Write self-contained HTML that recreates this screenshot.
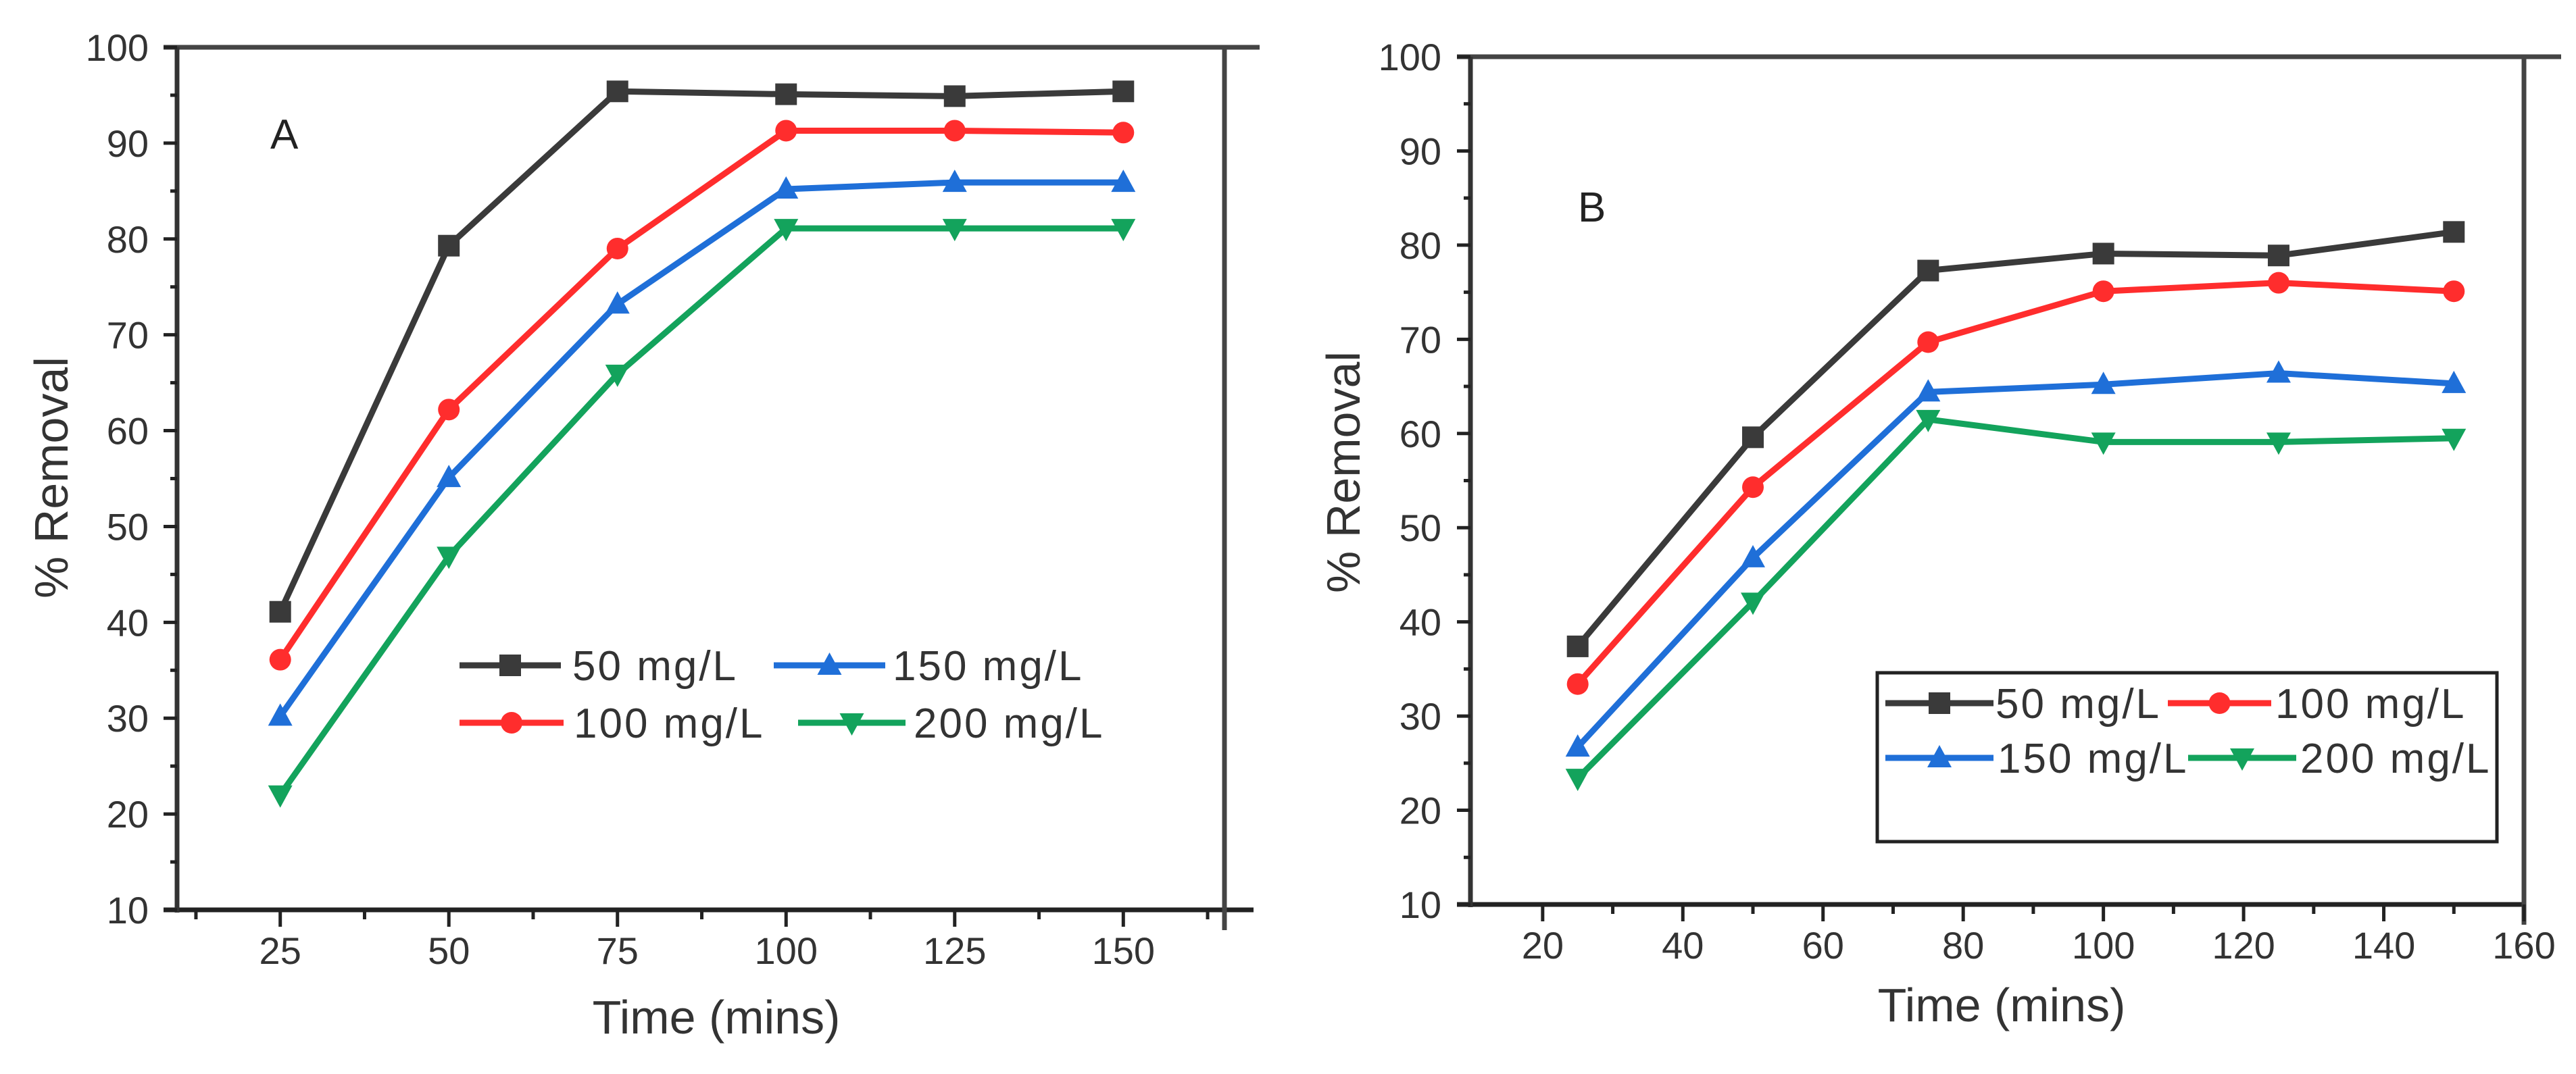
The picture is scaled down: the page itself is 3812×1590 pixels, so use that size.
<!DOCTYPE html>
<html><head><meta charset="utf-8"><style>
html,body{margin:0;padding:0;background:#fff;}
svg{display:block;font-family:"Liberation Sans",Arial,sans-serif;}
</style></head><body>
<svg id="fig" width="3812" height="1590" viewBox="0 0 3812 1590" xmlns="http://www.w3.org/2000/svg"></svg>
<script>
const timesA = [25, 50, 75, 100, 125, 150];
const a50  = [41.1, 79.3, 95.4, 95.1, 94.9, 95.4];
const a100 = [36.1, 62.2, 79.0, 91.3, 91.3, 91.1];
const a150 = [30.2, 55.1, 73.2, 85.2, 85.9, 85.9];
const a200 = [22.0, 46.9, 65.9, 81.1, 81.1, 81.1];
const timesB = [25, 50, 75, 100, 125, 150];
const b50  = [37.4, 59.6, 77.3, 79.1, 78.9, 81.4];
const b100 = [33.4, 54.3, 69.7, 75.1, 76.0, 75.1];
const b150 = [26.7, 46.8, 64.4, 65.2, 66.4, 65.3];
const b200 = [23.4, 42.1, 61.5, 59.1, 59.1, 59.5];
const yTicks = [10, 20, 30, 40, 50, 60, 70, 80, 90, 100];
const xTicksA = [25, 50, 75, 100, 125, 150];
const xTicksB = [20, 40, 60, 80, 100, 120, 140, 160];
const seriesNames = ["50 mg/L", "100 mg/L", "150 mg/L", "200 mg/L"];

const NS = "http://www.w3.org/2000/svg";
const svg = document.getElementById("fig");
const colors = ["#3a3a3a", "#ff2d2d", "#1f6fd8", "#13a35c"];
const markers = ["square", "circle", "up", "down"];

function mk(tag, attrs, parent) {
  const e = document.createElementNS(NS, tag);
  for (const k in attrs) e.setAttribute(k, attrs[k]);
  (parent || svg).appendChild(e);
  return e;
}
function marker(g, type, x, y, c) {
  let e;
  if (type === "square") e = mk("rect", {x: x-16, y: y-16, width: 32, height: 32, fill: c}, g);
  else if (type === "circle") e = mk("circle", {cx: x, cy: y, r: 16, fill: c}, g);
  else if (type === "up") e = mk("polygon", {points: `${x},${y-19} ${x-18},${y+14} ${x+18},${y+14}`, fill: c}, g);
  else e = mk("polygon", {points: `${x},${y+19} ${x-18},${y-14} ${x+18},${y-14}`, fill: c}, g);
  
  
}

function panel(cfg) {
  const g = mk("g", {});
  
  
  const sx = v => cfg.x0 + (v - cfg.xmin) * (cfg.x1 - cfg.x0) / (cfg.xmax - cfg.xmin);
  const sy = v => cfg.yb + (v - 10) * (cfg.yt - cfg.yb) / 90;
  const ax = mk("g", {stroke: "#222", "stroke-width": 7, fill: "none"}, g);
  
  
  mk("line", {x1: cfg.x0 - 20, y1: cfg.yb, x2: cfg.xAxisEnd, y2: cfg.yb}, ax);
  mk("line", {x1: cfg.x0 - 20, y1: cfg.yt, x2: cfg.topEnd, y2: cfg.yt, stroke: "#444"}, ax);
  mk("line", {x1: cfg.x0, y1: cfg.yt, x2: cfg.x0, y2: cfg.yb + 4, stroke: "#333"}, ax);
  mk("line", {x1: cfg.x1, y1: cfg.yt, x2: cfg.x1, y2: cfg.yb + 30, stroke: "#444"}, ax);
  yTicks.forEach(v => {
    mk("line", {x1: cfg.x0 - 20, y1: sy(v), x2: cfg.x0, y2: sy(v), "stroke-width": 5}, ax);
    if (v < 100) mk("line", {x1: cfg.x0 - 10, y1: sy(v + 5), x2: cfg.x0, y2: sy(v + 5), "stroke-width": 5}, ax);
    const t = mk("text", {x: cfg.ytRight, y: sy(v) + 20, "text-anchor": "end", "font-size": 56, fill: "#333", stroke: "none"}, g);
    t.textContent = v;
    
    
  });
  cfg.xTicks.forEach(v => {
    if (v > cfg.xmax + 0.01) return;
    mk("line", {x1: sx(v), y1: cfg.yb, x2: sx(v), y2: cfg.yb + 25, "stroke-width": 5}, ax);
    const t = mk("text", {x: sx(v), y: cfg.yb + 80, "text-anchor": "middle", "font-size": 56, fill: "#333", stroke: "none"}, g);
    t.textContent = v;
    
    
  });
  cfg.minor.forEach(v => {
    mk("line", {x1: sx(v), y1: cfg.yb, x2: sx(v), y2: cfg.yb + 14, "stroke-width": 5}, ax);
  });
  let t = mk("text", {x: cfg.xtX, y: cfg.xtY, "text-anchor": "middle", "font-size": 70, fill: "#333"}, g);
  t.textContent = "Time (mins)";
  
  
  t = mk("text", {x: 0, y: 0, "text-anchor": "middle", "font-size": 70, fill: "#333", transform: `translate(${cfg.ytX},${cfg.ytY}) rotate(-90)`}, g);
  t.textContent = "% Removal";
  
  
  t = mk("text", {x: cfg.lblX, y: cfg.lblY, "font-size": 62, fill: "#222"}, g);
  t.textContent = cfg.label;
  
  
  cfg.series.forEach((vals, i) => {
    const sg = mk("g", {}, g);
    
    
    const pts = vals.map((v, j) => sx(cfg.times[j]) + "," + sy(v)).join(" ");
    const pl = mk("polyline", {points: pts, fill: "none", stroke: colors[i], "stroke-width": 9, "stroke-linejoin": "round"}, sg);
    
    
    vals.forEach((v, j) => marker(sg, markers[i], sx(cfg.times[j]), sy(v), colors[i]));
  });
  const lg = mk("g", {}, g);
  
  
  if (cfg.legendBox) {
    const b = mk("rect", {x: cfg.legendBox[0], y: cfg.legendBox[1], width: cfg.legendBox[2], height: cfg.legendBox[3], fill: "none", stroke: "#222", "stroke-width": 5}, lg);
    
    
  }
  cfg.legend.forEach(e => {
    const [i, lx1, lx2, ly, tx] = e;
    const eg = mk("g", {}, lg);
    
    
    mk("line", {x1: lx1, y1: ly, x2: lx2, y2: ly, stroke: colors[i], "stroke-width": 9}, eg);
    marker(eg, markers[i], (lx1 + lx2) / 2, ly, colors[i]);
    const tt = mk("text", {x: tx, y: ly + 22, "font-size": 62, fill: "#333", "letter-spacing": 3}, eg);
    tt.textContent = seriesNames[i];
  });
}

panel({
  name: "panel-a", x0: 262, x1: 1812, xmin: 9.7, xmax: 165, yb: 1347, yt: 70,
  xAxisEnd: 1855, topEnd: 1864, xTicks: xTicksA,
  minor: [12.5, 37.5, 62.5, 87.5, 112.5, 137.5, 162.5],
  ytRight: 220, xtX: 1060, xtY: 1530, ytX: 100, ytY: 707, label: "A", lblX: 400, lblY: 220,
  times: timesA, series: [a50, a100, a150, a200],
  legend: [[0, 680, 830, 985, 847], [2, 1145, 1310, 985, 1321], [1, 680, 834, 1070, 849], [3, 1181, 1340, 1070, 1352]]
});
panel({
  name: "panel-b", x0: 2176, x1: 3735, xmin: 9.7, xmax: 160, yb: 1339, yt: 84,
  xAxisEnd: 3735, topEnd: 3790, xTicks: xTicksB,
  minor: [30, 50, 70, 90, 110, 130, 150],
  ytRight: 2133, xtX: 2962, xtY: 1512, ytX: 2012, ytY: 699, label: "B", lblX: 2335, lblY: 328,
  times: timesB, series: [b50, b100, b150, b200],
  legendBox: [2778, 996, 917, 250],
  legend: [[0, 2790, 2950, 1041, 2953], [1, 3208, 3361, 1041, 3367], [2, 2790, 2950, 1122, 2956], [3, 3238, 3398, 1122, 3404]]
});
</script>
</body></html>
